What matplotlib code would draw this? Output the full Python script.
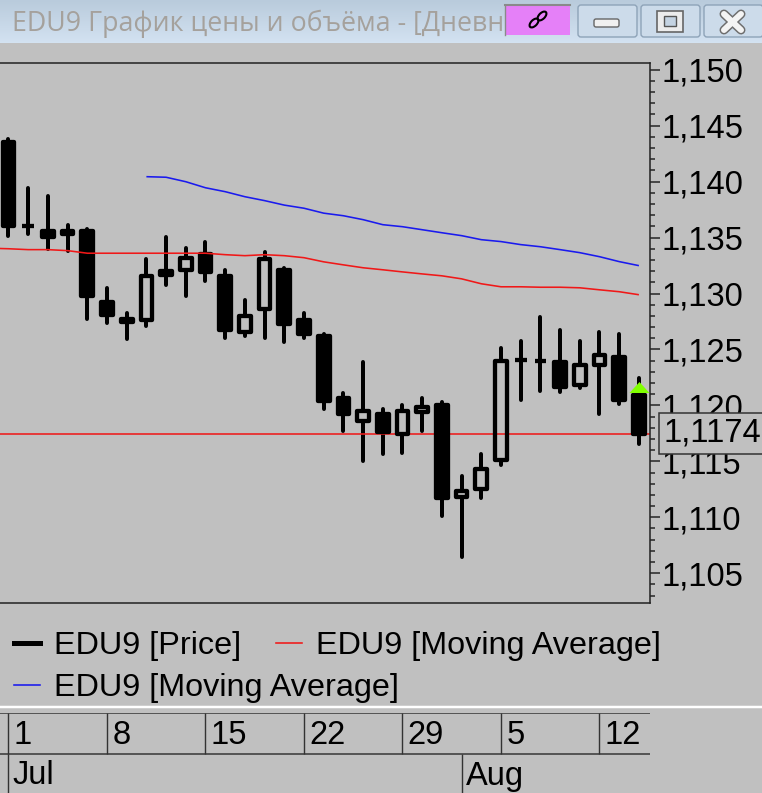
import matplotlib
matplotlib.use("Agg")
import matplotlib.pyplot as plt
from matplotlib.patches import Rectangle, FancyBboxPatch, Ellipse
from matplotlib.lines import Line2D
from matplotlib.ticker import MultipleLocator, FuncFormatter
from matplotlib.transforms import blended_transform_factory
import numpy as np

W, H = 762, 793
BG = "#c0c0c0"
FONT = "Liberation Sans"

# one row per trading day, starting 1 Jul
opens = [1.14377, 1.13614, 1.13574, 1.13574, 1.13574, 1.12940, 1.12790, 1.12746, 1.13220, 1.13190, 1.13374,
         1.13180, 1.12636, 1.12840, 1.13230, 1.12780, 1.12636, 1.12082, 1.11842, 1.11942, 1.11729, 1.11922,
         1.12022, 1.11165, 1.11235, 1.11489, 1.12426, 1.12406, 1.12406, 1.12162, 1.12346, 1.12456, 1.12112]
closes = [1.13584, 1.13584, 1.13484, 1.13514, 1.12960, 1.12790, 1.12726, 1.13180, 1.13150, 1.13340, 1.13170,
          1.12656, 1.12820, 1.13330, 1.12706, 1.12616, 1.12022, 1.11902, 1.11972, 1.11739, 1.11972, 1.12002,
          1.11155, 1.11255, 1.11449, 1.12416, 1.12386, 1.12376, 1.12142, 1.12376, 1.12466, 1.12032, 1.11729]
highs = [1.14377, 1.13947, 1.13867, 1.13614, 1.13574, 1.13050, 1.12830, 1.13304, 1.13504, 1.13407, 1.13464,
         1.13210, 1.12940, 1.13374, 1.13230, 1.12830, 1.12636, 1.12112, 1.12386, 1.11972, 1.12002, 1.12062,
         1.12032, 1.11369, 1.11569, 1.12516, 1.12576, 1.12790, 1.12676, 1.12576, 1.12656, 1.12636, 1.12246]
lows = [1.13514, 1.13534, 1.13394, 1.13384, 1.12770, 1.12736, 1.12596, 1.12706, 1.13080, 1.12980, 1.13110,
        1.12606, 1.12616, 1.12606, 1.12566, 1.12606, 1.11972, 1.11772, 1.11499, 1.11569, 1.11579, 1.11772,
        1.11015, 1.10642, 1.11175, 1.11469, 1.12052, 1.12132, 1.12122, 1.12152, 1.11922, 1.12012, 1.11659]
# red average starts one session before the first visible candle
ma_red = [1.13405, 1.13400, 1.13392, 1.13392, 1.13383, 1.13360, 1.13360, 1.13360, 1.13360, 1.13360, 1.13360, 1.13360,
          1.13347, 1.13338, 1.13347, 1.13338, 1.13320, 1.13283, 1.13256, 1.13230, 1.13212, 1.13193, 1.13175,
          1.13158, 1.13131, 1.13087, 1.13060, 1.13060, 1.13056, 1.13056, 1.13051, 1.13033, 1.13016, 1.12989]
ma_blue = [1.14044, 1.14039, 1.13999, 1.13945, 1.13910, 1.13865, 1.13830, 1.13790, 1.13762, 1.13718, 1.13695,
           1.13660, 1.13615, 1.13597, 1.13570, 1.13543, 1.13517, 1.13481, 1.13464, 1.13437, 1.13418, 1.13392,
           1.13365, 1.13329, 1.13285, 1.13249]
blue_start = 7
last_price = 1.1174
week_idx = [0, 5, 10, 15, 20, 25, 30]
week_labels = ["1", "8", "15", "22", "29", "5", "12"]
month_idx = [0, 23]
month_labels = ["Jul", "Aug"]
legend_labels = ["EDU9 [Price]", "EDU9 [Moving Average]", "EDU9 [Moving Average]"]

px = 72 / 100  # one pixel in points
fig = plt.figure(figsize=(W / 100, H / 100), dpi=100, facecolor=BG)

# window chrome, in pixel coordinates
chrome = fig.add_axes([0, 0, 1, 1], zorder=0)
chrome.axis("off")
grad = np.linspace(0, 1, 43).reshape(-1, 1)
bar_cmap = matplotlib.colors.LinearSegmentedColormap.from_list("bar", ["#b9cbdc", "#d3e2f1"])
chrome.imshow(grad, extent=(0, W, 43, 0), aspect="auto", cmap=bar_cmap, zorder=1)
chrome.set_xlim(0, W)
chrome.set_ylim(H, 0)
chrome.text(12, 24, "EDU9 График цены и объёма - [Дневной]", family="Open Sans", fontsize=26.8 * px,
            color="#a5a19c", va="center", ha="left", zorder=2)
chrome.add_patch(Rectangle((505, 5), 65, 30, fc="#e580f8", ec="none", zorder=3))
chrome.plot([505, 570], [5, 5], color="#8a8a8a", lw=1.5, zorder=4)
chrome.plot([505, 505], [5, 35], color="#8a8a8a", lw=1, zorder=4)
for cx, cy in [(534, 23), (542, 16)]:
    chrome.add_patch(Ellipse((cx, cy), 11, 6, angle=-45, fc="none", ec="black", lw=1.5, zorder=4))
for bx in [578, 641, 704]:
    chrome.add_patch(FancyBboxPatch((bx, 5), 59, 32, boxstyle="round,pad=0,rounding_size=3",
                                    fc="#ccdbea", ec="#8ea3b8", lw=1, zorder=3))
chrome.add_patch(FancyBboxPatch((594, 19), 25, 8, boxstyle="round,pad=0,rounding_size=2",
                                fc="#f0f0f0", ec="#666666", lw=1, zorder=4))
chrome.add_patch(Rectangle((657, 11), 26, 21, fc="#ececec", ec="#666666", lw=1.2, zorder=4))
chrome.add_patch(Rectangle((664, 16), 12, 10, fc="#c4d3e2", ec="#555555", lw=1, zorder=5))
chrome.plot([724, 741], [14, 30], color="#6e6e6e", lw=9 * px, solid_capstyle="round", zorder=4)
chrome.plot([724, 741], [30, 14], color="#6e6e6e", lw=9 * px, solid_capstyle="round", zorder=4)
chrome.plot([724, 741], [14, 30], color="#f4f4f4", lw=6 * px, solid_capstyle="round", zorder=5)
chrome.plot([724, 741], [30, 14], color="#f4f4f4", lw=6 * px, solid_capstyle="round", zorder=5)
chrome.plot([0, W], [707, 707], color="white", lw=2.5 * px, zorder=2)

# price panel
left, right, top, bottom = 0, 650, 63, 603
ax = fig.add_axes([left / W, 1 - bottom / H, (right - left) / W, (bottom - top) / H], zorder=2)
ax.set_facecolor(BG)
step = 19.7
x0 = 8.5
xlim = (-x0 / step, (right - x0) / step)
ax.set_xlim(*xlim)
ax.set_ylim(1.10234, 1.15060)
ax.set_xticks([])
ax.spines["left"].set_visible(False)
for s in ["top", "right", "bottom"]:
    ax.spines[s].set_linewidth(1.1)
    ax.spines[s].set_color("#222222")

days = np.arange(len(opens))
opens = np.array(opens)
closes = np.array(closes)
ax.vlines(days, lows, highs, color="black", lw=4 * px, zorder=1, capstyle="round")
stroke = 4.3
body_w = (16 - stroke) / step
inset = stroke / 2 / 11190
tops = np.maximum(opens, closes) - inset
bots = np.minimum(opens, closes) + inset
heights = np.maximum(tops - bots, 0.00002)
down = closes < opens
ax.bar(days[~down], heights[~down], body_w, bots[~down], color=BG, zorder=2)
ax.axhline(last_price, color="#ee1c1c", lw=1.6 * px, zorder=2.5)
hollow = ax.bar(days[~down], heights[~down], body_w, bots[~down], facecolor="none", edgecolor="black",
                lw=stroke * px, zorder=3)
solid = ax.bar(days[down], heights[down], body_w, bots[down], facecolor="black", edgecolor="black",
               lw=stroke * px, zorder=3)
for r in list(hollow) + list(solid):
    r.set_joinstyle("round")
ax.plot(np.arange(-1, len(opens)), ma_red, color="#f01818", lw=1.6 * px, zorder=4, solid_capstyle="butt")
ax.plot(days[blue_start:], ma_blue, color="#1a1aee", lw=1.6 * px, zorder=4, solid_capstyle="butt")
tri = [(-1, -0.55), (1, -0.55), (0, 0.55)]
ax.plot([days[-1]], [1.1216], marker=tri, ms=20 * px, color="#80ff00", mec="none", zorder=5)

ax.yaxis.tick_right()
ax.yaxis.set_major_locator(MultipleLocator(0.005))
ax.yaxis.set_minor_locator(MultipleLocator(0.001))
ax.yaxis.set_major_formatter(FuncFormatter(lambda v, pos: f"{v:.3f}".replace(".", ",")))
ax.tick_params(axis="y", which="major", length=10 * px, width=1.5 * px, pad=1, labelsize=23.5, color="#222222")
ax.tick_params(axis="y", which="minor", length=5 * px, width=1.5 * px, color="#222222")
for t in ax.get_yticklabels():
    t.set_family(FONT)

tr = blended_transform_factory(ax.transAxes, ax.transData)
ax.text(1 + 14 / (right - left), last_price + 0.0001, f"{last_price:.4f}".replace(".", ","), transform=tr,
        family=FONT, fontsize=23.5, va="center", ha="left", clip_on=False, zorder=10,
        bbox=dict(boxstyle="square,pad=0.15", fc=BG, ec="#333333", lw=1.1))

# legend: two separate rows, the columns do not line up in the original
leg_opts = dict(frameon=False, loc="upper left", borderaxespad=0, borderpad=0,
                prop=dict(family=FONT, size=23.3), handlelength=0.8, handletextpad=0.43, columnspacing=1.08)
row1 = [Line2D([], [], color="black", lw=5 * px), Line2D([], [], color="#f01818", lw=1.6 * px)]
row2 = [Line2D([], [], color="#1a1aee", lw=1.6 * px)]
fig.legend(row1, legend_labels[:2], ncol=2, bbox_to_anchor=(14 / W, 1 - 631 / H), **leg_opts)
fig.legend(row2, legend_labels[2:], bbox_to_anchor=(14 / W, 1 - 673 / H), **leg_opts)

# date panel
date_ax = fig.add_axes([left / W, 0, (right - left) / W, (H - 713) / H], zorder=2)
date_ax.set_xlim(*xlim)
date_ax.set_ylim(80, 0)
date_ax.axis("off")
date_ax.hlines([0, 41], *xlim, color="#333333", lw=1.5 * px)
date_ax.vlines(week_idx, 0, 41, color="#333333", lw=1.4 * px)
date_ax.vlines(month_idx, 41, 80, color="#333333", lw=1.4 * px)
for i, lab in zip(week_idx, week_labels):
    date_ax.text(i + 0.27, 22, lab, family=FONT, fontsize=23.5, va="center", ha="left")
for i, lab in zip(month_idx, month_labels):
    date_ax.text(i + 0.22, 63, lab, family=FONT, fontsize=23.5, va="center", ha="left", clip_on=True)

fig.savefig("out.png", dpi=100, facecolor=BG)
